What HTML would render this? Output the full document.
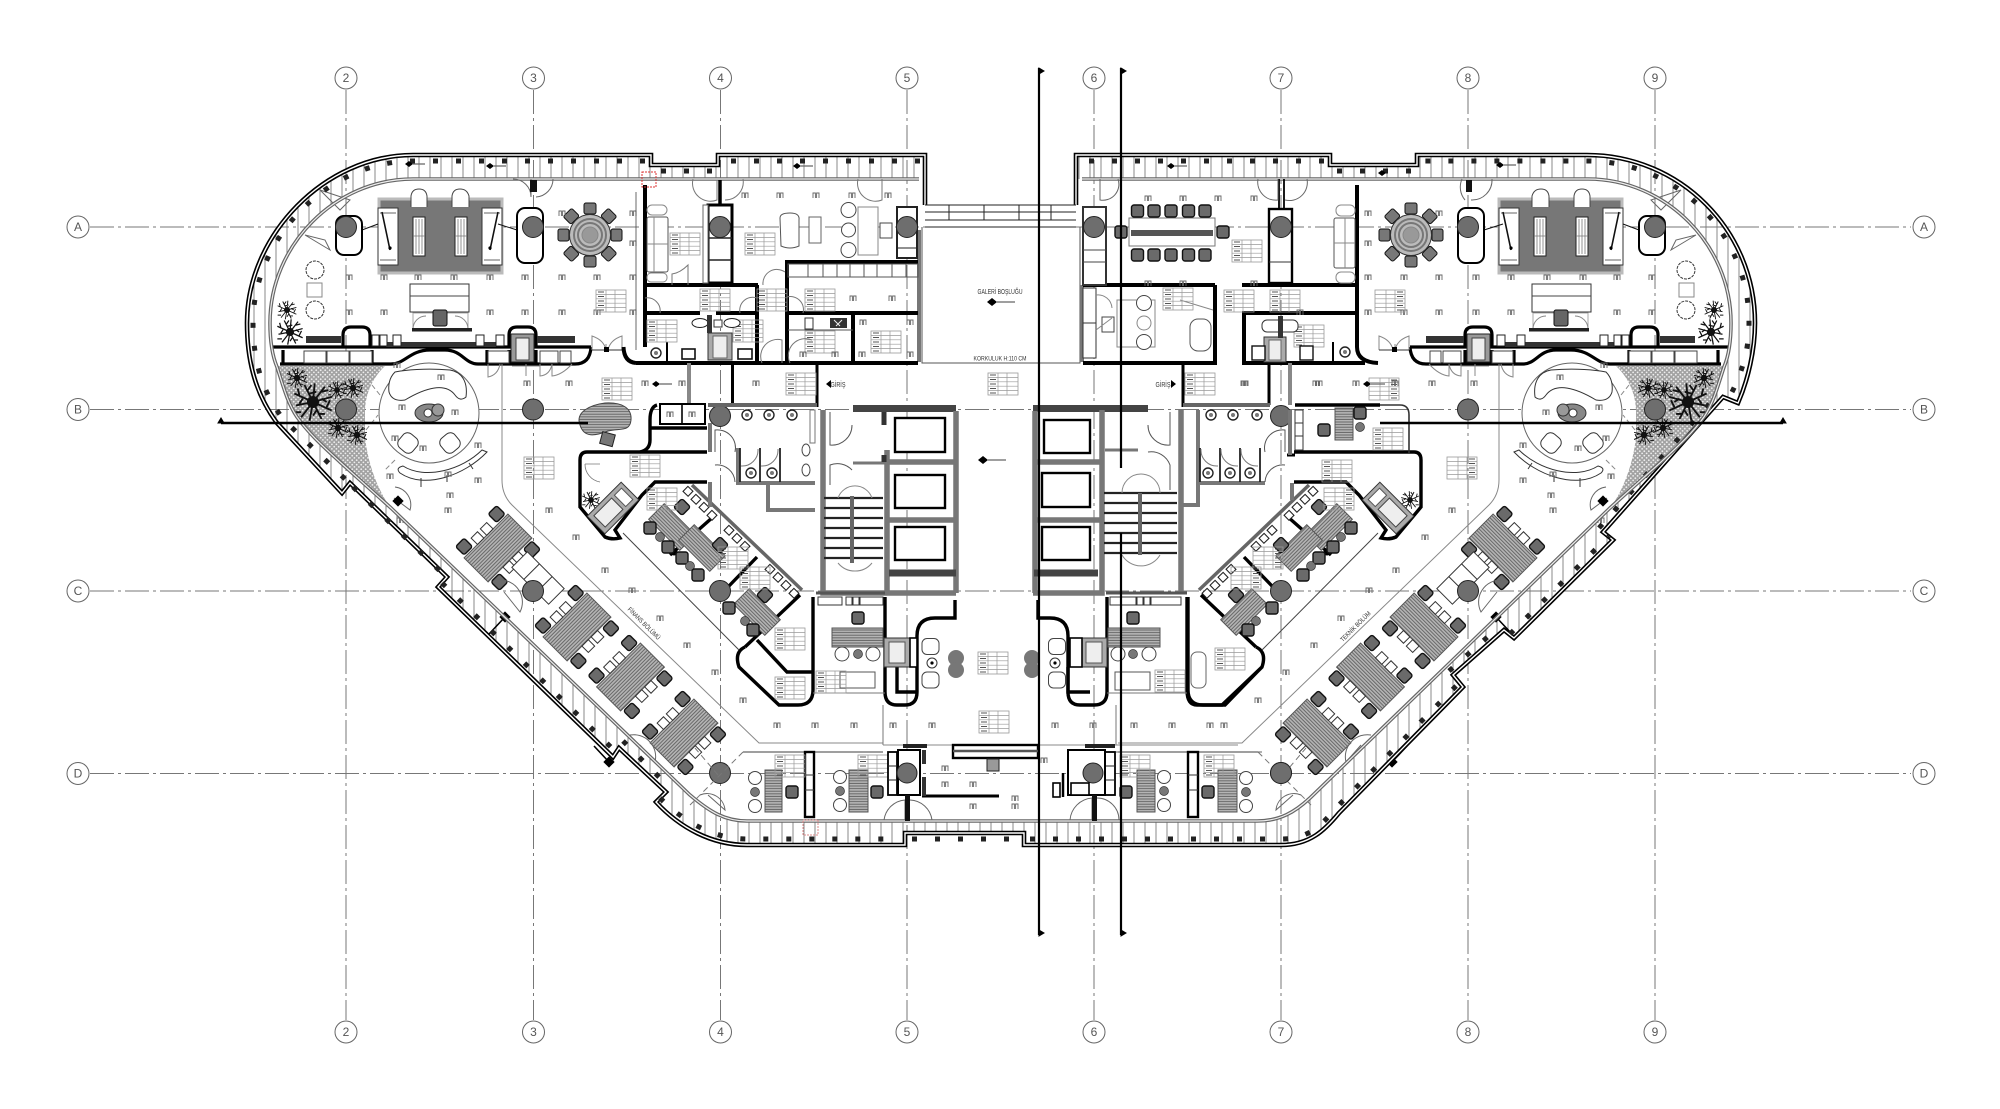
<!DOCTYPE html>
<html><head><meta charset="utf-8"><title>Floor plan</title>
<style>html,body{margin:0;padding:0;background:#fff}svg{display:block}text{font-family:"Liberation Sans",sans-serif}</style></head>
<body>
<svg xmlns="http://www.w3.org/2000/svg" width="2000" height="1109" viewBox="0 0 2000 1109">
<defs>
<pattern id="hatch" width="11" height="10" patternUnits="userSpaceOnUse"><rect width="11" height="10" fill="#fff"/><path d="M1,0V10" stroke="#888" stroke-width="1"/></pattern>
<pattern id="dots" width="4.5" height="4.5" patternUnits="userSpaceOnUse"><rect width="4.5" height="4.5" fill="#a2a2a2"/><circle cx="1.2" cy="1.2" r=".9" fill="#eee"/><circle cx="3.4" cy="3.4" r=".9" fill="#eee"/></pattern>
<pattern id="wood" width="40" height="2.6" patternUnits="userSpaceOnUse"><rect width="40" height="2.6" fill="#b5b5b5"/><path d="M0,.8H40" stroke="#666" stroke-width=".9"/></pattern>
<g id="tk"><path d="M-3,3V-2H-.6V3M.6,3V-2H3V3" stroke="#666" fill="none" stroke-width=".9"/></g>
<g id="nt"><rect width="30" height="22" fill="none" stroke="#999" stroke-width=".8"/><path d="M0,4.4H30M0,8.8H30M0,13.2H30M0,17.6H30M10,0V22M19,0V22" stroke="#999" stroke-width=".7"/><path d="M2,2H8M2,6.5H8M2,11H8M2,15.5H8M2,20H8" stroke="#555" stroke-width="1"/></g>
<g id="gc"><rect x="-6" y="-6" width="12" height="12" rx="2.5" fill="#6a6a6a" stroke="#111" stroke-width="1.4"/></g>
<g id="st"><circle r="6" fill="#fff" stroke="#444"/></g>
<g id="gs"><circle r="4.5" fill="#777" stroke="#333" stroke-width=".7"/></g>
<g id="col"><circle r="10.5" fill="#6e6e6e" stroke="#222" stroke-width="1"/></g>
<g id="palm" stroke="#111" stroke-width="1.1" fill="none"><path d="M0,0L-11,-5M0,0L-10,2M0,0L-7,9M0,0L-2,11M0,0L5,10M0,0L11,5M0,0L11,-3M0,0L7,-9M0,0L1,-11M0,0L-5,-10M-8,-4L-9,-8M-7,6L-11,6M3,7L7,7M8,3L10,-1M5,-6L9,-7M-3,-7L-1,-10M-6,-2L-8,1M2,5L0,8M5,-2L8,0M-2,-5L2,-6"/><circle r="3" fill="#111"/></g>
<g id="ws"><rect x="-31" y="-17" width="62" height="34" fill="url(#wood)" stroke="#555"/>
<use href="#gc" x="-23" y="-25"/><use href="#gc" x="23" y="-25"/><use href="#gc" x="-23" y="25"/><use href="#gc" x="23" y="25"/>
<rect x="-12" y="-26" width="9" height="9" fill="#fff" stroke="#333"/><rect x="1" y="-26" width="9" height="9" fill="#fff" stroke="#333"/><rect x="-10" y="17" width="9" height="9" fill="#fff" stroke="#333"/><rect x="3" y="17" width="9" height="9" fill="#fff" stroke="#333"/></g>
<g id="sd"><rect x="-22" y="-11" width="44" height="22" fill="url(#wood)" stroke="#555"/></g>
<g id="wc"><circle r="5" fill="#fff" stroke="#222" stroke-width="1.4"/><circle r="2" fill="#777"/></g>
<g id="fx"><rect x="-8.5" y="-8" width="17" height="16" rx="5" fill="#fff" stroke="#444"/></g>

<g id="wing">
<!-- dotted planter -->
<path d="M277,366H385C372,378 365,395 365,412V437C368,465 378,490 390,507L387,507L340,462C325,448 310,435 297,417C287,402 283,385 277,367Z" fill="url(#dots)"/>
<use href="#palm" transform="translate(297,378) scale(.9)"/><use href="#palm" transform="translate(337,390) scale(.8)"/><use href="#palm" transform="translate(353,388) scale(.9)"/><use href="#palm" transform="translate(313,402) scale(1.7)"/><use href="#palm" transform="translate(338,428) scale(.9)"/><use href="#palm" transform="translate(357,435) scale(.9)"/>
<use href="#palm" transform="translate(287,310) scale(.85)"/><use href="#palm" transform="translate(290,332) scale(1.15)"/>
<use href="#palm" transform="translate(591,500) scale(.8)"/>
<!-- rug & seating -->
<rect x="379" y="199" width="123" height="74" fill="#777" stroke="#bbb" stroke-width="3"/>
<rect x="378" y="208" width="20" height="57" fill="#fff" stroke="#333"/><rect x="482" y="208" width="20" height="57" fill="#fff" stroke="#333"/>
<path d="M380,213H396M380,260H396M484,213H500M484,260H500" stroke="#666"/>
<path d="M382,212L390,250M498,212L490,250" stroke="#111" stroke-width="1.6"/><circle cx="390" cy="248" r="1.6"/><circle cx="490" cy="248" r="1.6"/>
<rect x="413" y="217" width="12" height="39" fill="#fff" stroke="#222"/><rect x="455" y="217" width="12" height="39" fill="#fff" stroke="#222"/>
<path d="M416,219V254M419,219V254M422,219V254M458,219V254M461,219V254M464,219V254M413,236H425M455,236H467" stroke="#777" stroke-width=".8"/>
<path d="M411,207V196Q412,189 419,189Q426,189 427,196V207M452,207V196Q453,189 460,189Q467,189 469,196V207" fill="#fff" stroke="#444"/>
<path d="M362,230L378,224M498,224L517,230" stroke="#111"/>
<rect x="336" y="216" width="26" height="39" rx="8" fill="#fff" stroke="#000" stroke-width="2"/>
<rect x="517" y="208" width="26" height="55" rx="8" fill="#fff" stroke="#000" stroke-width="2"/>
<use href="#col" x="346" y="227"/><use href="#col" x="533" y="227"/>
<!-- round table -->
<g transform="translate(590,235)"><g id="rc"><rect x="-6" y="-32" width="12" height="11" rx="2" fill="#777" stroke="#111"/><rect x="-6" y="21" width="12" height="11" rx="2" fill="#777" stroke="#111"/><rect x="-32" y="-6" width="11" height="12" rx="2" fill="#777" stroke="#111"/><rect x="21" y="-6" width="11" height="12" rx="2" fill="#777" stroke="#111"/></g><use href="#rc" transform="rotate(45)"/>
<circle r="20.5" fill="#bbb" stroke="#333"/><circle r="16" fill="none" stroke="#777" stroke-width="2"/><circle r="12" fill="none" stroke="#777" stroke-width="2"/><circle r="8" fill="#999" stroke="#888"/></g>
<!-- reception -->
<rect x="410" y="284" width="59" height="28" fill="#fff" stroke="#333"/><path d="M410,296H469" stroke="#444"/>
<rect x="413" y="313" width="55" height="16" fill="#fff" stroke="#aaa"/><path d="M413,329A13,13 0 0 1 426,316M468,329A13,13 0 0 0 455,316" fill="none" stroke="#888"/>
<rect x="433" y="310" width="14" height="16" rx="2" fill="#666" stroke="#111"/>
<rect x="412" y="328" width="60" height="3.5" fill="#222"/>
<rect x="307" y="283" width="15" height="14" fill="#fff" stroke="#888"/>
<circle cx="315" cy="270" r="9" fill="#fff" stroke="#333" stroke-dasharray="3 1"/><circle cx="315" cy="310" r="9" fill="#fff" stroke="#333" stroke-dasharray="3 1"/>
<!-- band wall -->
<g fill="none" stroke="#000" stroke-width="3.2">
<path d="M272,347H591"/><path d="M280,364H391C405,364 410,350 430,350H445C462,350 465,364 478,364H487"/>
<path d="M486,364H575Q590,364 591,347"/>
<path d="M343,347V335Q343,327 351,327H362Q370,327 370,335V347M509,347V335Q509,327 517,327H528Q536,327 536,335V347"/>
<path d="M372,350V364M283,350V364M487,350V364M509,350V364M536,350V364"/>
</g>
<rect x="306" y="336" width="35" height="7" fill="#333"/><rect x="537" y="336" width="38" height="7" fill="#333"/><rect x="386" y="342" width="110" height="5" fill="#333"/>
<g fill="#fff" stroke="#222"><rect x="372" y="335" width="7" height="11"/><rect x="380" y="335" width="7" height="11"/><rect x="393" y="335" width="8" height="11"/><rect x="476" y="335" width="8" height="11"/><rect x="496" y="335" width="8" height="11"/></g>
<g fill="#fff" stroke="#444"><rect x="304" y="351" width="22" height="12"/><rect x="327" y="351" width="22" height="12"/><rect x="350" y="351" width="22" height="12"/><rect x="488" y="351" width="21" height="12"/><rect x="540" y="351" width="18" height="12"/><rect x="560" y="351" width="11" height="12"/></g>
<rect x="511" y="334" width="23" height="28" fill="#999" stroke="#222"/><rect x="516" y="338" width="13" height="22" fill="#eee" stroke="#444"/>
<path d="M592,350V336Q604,340 606,350V344M622,350V336Q610,340 608,350" fill="none" stroke="#888"/>
<path d="M592,350H622" stroke="#333"/><rect x="604" y="347" width="5" height="5" fill="#000"/>
<path d="M488,364V377Q498,375 500,364M512,366H540M526,364V376M540,364V376Q550,375 552,364V376Q562,375 572,364" fill="none" stroke="#888"/>
<!-- lounge -->
<circle cx="429" cy="413" r="50" fill="#fff" stroke="#666"/>
<path d="M395,372C405,370 425,368 450,370C462,372 468,382 466,397Q460,402 455,395C445,382 425,388 405,400Q392,402 389,392C388,384 390,377 395,372Z" fill="#fff" stroke="#333"/>
<ellipse cx="429" cy="413" rx="14" ry="9" fill="#888" stroke="#333"/><circle cx="428" cy="413" r="4" fill="#fff" stroke="#333"/><ellipse cx="438" cy="410" rx="6" ry="6" fill="#999" stroke="#333"/>
<rect x="399" y="434" width="18" height="18" rx="6" transform="rotate(40 408 443)" fill="#fff" stroke="#333"/><rect x="441" y="434" width="18" height="18" rx="6" transform="rotate(-40 450 443)" fill="#fff" stroke="#333"/>
<path d="M400,473C425,490 465,475 487,452L482,450C462,470 425,480 403,466Q395,468 400,473Z" fill="#fff" stroke="#333"/>
<path d="M421,478V487M447,475V482M469,463L473,469" stroke="#333"/>
<path d="M380,395L372,385M395,460L385,470M366,430L378,415" stroke="#888" stroke-dasharray="5 3"/>
<!-- floor boundary -->
<path d="M502,364V480Q502,495 512,505L759,743H883" fill="none" stroke="#888"/>
<!-- wing walls -->
<g fill="none" stroke="#000" stroke-width="3.4">
<path d="M707,452H587Q580,452 580,460V507L605,537Q612,540 620,538L615,530L642,495L655,482H707"/>
<path d="M745,647Q734,652 739,667L779,705H798Q813,705 813,690V597"/>
<path d="M713,517L670,555M757,557L728,587M800,595L745,647"/>
</g>
<circle cx="674" cy="552" r="3.5" fill="#000"/>
<path d="M692,485L802,590" stroke="#666" stroke-width="3.5"/>
<path d="M623,533L739,650" stroke="#444" stroke-width="1"/>
<g fill="#fff" stroke="#222" stroke-width="1.1"><rect x="684" y="488" width="7" height="7" transform="rotate(44 688 492)"/><rect x="692" y="496" width="7" height="7" transform="rotate(44 696 500)"/><rect x="700" y="504" width="7" height="7" transform="rotate(44 704 508)"/><rect x="708" y="512" width="7" height="7" transform="rotate(44 712 516)"/><rect x="725" y="527" width="7" height="7" transform="rotate(44 729 531)"/><rect x="733" y="535" width="7" height="7" transform="rotate(44 737 539)"/><rect x="741" y="543" width="7" height="7" transform="rotate(44 745 547)"/><rect x="766" y="566" width="7" height="7" transform="rotate(44 770 570)"/><rect x="774" y="574" width="7" height="7" transform="rotate(44 778 578)"/><rect x="782" y="582" width="7" height="7" transform="rotate(44 786 586)"/><rect x="790" y="590" width="7" height="7" transform="rotate(44 794 594)"/></g>
<g transform="translate(613,508) rotate(45)"><rect x="-12.5" y="-24" width="25" height="48" fill="#aaa" stroke="#333"/><rect x="-8" y="-6" width="16" height="25" fill="#eee" stroke="#444"/><rect x="-8" y="-20" width="16" height="10" fill="#fff" stroke="#555"/></g>
<use href="#sd" transform="translate(672,527) rotate(45)"/><use href="#sd" transform="translate(702,548) rotate(45)"/><use href="#sd" transform="translate(757,612) rotate(45)"/>
<use href="#gc" transform="translate(682,507) rotate(45)"/><use href="#gc" transform="translate(720,545) rotate(45)"/><use href="#gc" transform="translate(765,595) rotate(45)"/>
<use href="#gc" x="650" y="528"/><use href="#gs" x="660" y="537"/><use href="#gc" x="668" y="547"/><use href="#gc" x="682" y="558"/><use href="#gs" x="690" y="566"/><use href="#gc" x="698" y="575"/><use href="#gs" x="745" y="621"/><use href="#gc" x="753" y="630"/><use href="#gc" x="729" y="608"/>
<use href="#nt" x="647" y="488"/><use href="#nt" x="718" y="547"/><use href="#nt" x="740" y="567"/>
<!-- workstations -->
<use href="#ws" transform="translate(498,548) rotate(-45)"/><use href="#ws" transform="translate(577,627) rotate(-45)"/><use href="#ws" transform="translate(630.5,677) rotate(-45)"/><use href="#ws" transform="translate(684,733) rotate(-45)"/>
<g transform="translate(538,578) rotate(45)"><rect x="-26" y="-11" width="52" height="22" fill="#fff" stroke="#333"/><path d="M-9,-11V11M9,-11V11" stroke="#333"/></g>
<!-- columns -->
<use href="#col" x="346" y="409.5"/><use href="#col" x="533" y="409.5"/><use href="#col" x="720" y="416"/><use href="#col" x="533" y="591"/><use href="#col" x="720" y="591"/><use href="#col" x="720" y="773"/>
<!-- perimeter doors -->
<g fill="none" stroke="#666"><path d="M394,498L410,510A18,18 0 0 0 395,487"/><path d="M504,592L520,612A22,22 0 0 0 500,580"/><path d="M640,745L655,762A22,22 0 0 0 630,735"/><path d="M708,795L725,810A18,18 0 0 0 700,795"/><path d="M320,190L340,210L350,200Z"/><path d="M305,235L325,240L330,250Z"/></g>
<g fill="#000"><rect x="394" y="497" width="8" height="8" transform="rotate(45 398 501)"/><rect x="501" y="613" width="8" height="8" transform="rotate(45 505 617)"/><rect x="605" y="758" width="8" height="8" transform="rotate(45 609 762)"/></g>
<path d="M505,617L489,634M609,762L594,746" stroke="#000" stroke-width="1.6"/>
<!-- ticks -->
<use href="#tk" x="349" y="277"/><use href="#tk" x="384" y="277"/><use href="#tk" x="418" y="277"/><use href="#tk" x="454" y="277"/><use href="#tk" x="490" y="277"/><use href="#tk" x="525" y="277"/><use href="#tk" x="562" y="277"/><use href="#tk" x="597" y="277"/><use href="#tk" x="633" y="277"/>
<use href="#tk" x="349" y="312"/><use href="#tk" x="384" y="312"/><use href="#tk" x="490" y="312"/><use href="#tk" x="525" y="312"/><use href="#tk" x="562" y="312"/><use href="#tk" x="597" y="312"/><use href="#tk" x="633" y="312"/>
<use href="#tk" x="562" y="213"/><use href="#tk" x="633" y="213"/><use href="#tk" x="633" y="243"/>
<use href="#tk" x="527" y="383"/><use href="#tk" x="569" y="383"/><use href="#tk" x="645" y="383"/><use href="#tk" x="682" y="383"/><use href="#tk" x="756" y="383"/>
<use href="#tk" x="397" y="365"/><use href="#tk" x="441" y="377"/><use href="#tk" x="402" y="407"/><use href="#tk" x="455" y="412"/><use href="#tk" x="395" y="438"/><use href="#tk" x="423" y="448"/><use href="#tk" x="478" y="445"/><use href="#tk" x="390" y="476"/><use href="#tk" x="448" y="474"/><use href="#tk" x="478" y="480"/><use href="#tk" x="450" y="495"/>
<use href="#tk" x="448" y="510"/><use href="#tk" x="400" y="520"/>
<use href="#tk" x="549" y="510"/><use href="#tk" x="576" y="537"/><use href="#tk" x="605" y="570"/><use href="#tk" x="632" y="590"/><use href="#tk" x="660" y="618"/><use href="#tk" x="687" y="645"/><use href="#tk" x="715" y="672"/><use href="#tk" x="743" y="700"/><use href="#tk" x="777" y="725"/>
<use href="#nt" x="596" y="290"/><use href="#nt" x="602" y="378"/><use href="#nt" x="524" y="457"/>
<!-- lower offices -->
<path d="M743,752H883" stroke="#666" stroke-width="1.2" fill="none"/>
<path d="M743,752L690,805M718,775L695,748" stroke="#777" stroke-dasharray="6 4" fill="none"/>
</g>
</defs>

<rect width="2000" height="1109" fill="#fff"/>

<!-- building shell: terrace hatch + floor -->
<path d="M925,205V155H718V165H651V155H413C325,155 247,235 247,323C247,340 249,358 253,373C258,392 266,408 277,423L342,493L350,483L447,577L438,587L613,757L619,748L666,792L656,802C680,828 712,845 747,845H905V833H1024V845H1281C1310,845 1325,830 1339,813L1463,687L1453,675L1504,630L1514,638L1613,540L1603,532L1723,397L1738,403C1748,380 1755,350 1755,323C1755,230 1680,155 1587,155H1417V165H1330V155H1076V205Z" fill="url(#hatch)"/>
<path d="M925,179H413C335,179 270,245 270,323C270,340 272,355 277,367C283,385 287,402 297,417C310,435 325,448 340,462L391,508L690,795C710,812 725,821 747,821H1257C1280,821 1295,812 1310,798L1610,508L1661,462C1676,448 1691,435 1704,417C1714,402 1718,385 1724,367C1729,355 1731,340 1731,323C1731,245 1666,179 1588,179H1076V205H925Z" fill="#fff"/>
<rect x="925" y="205" width="151" height="160" fill="#fff"/>

<!-- grid -->
<g stroke="#777" stroke-width="1" stroke-dasharray="24 4 3 4" fill="none">
<path d="M346,90V1020M533.5,90V1020M720.5,90V1020M907,90V1020M1094,90V1020M1281,90V1020M1468,90V1020M1655,90V1020"/>
<path d="M90,227H1911M90,409.5H1911M90,591H1911M90,773.5H1911"/>
</g>
<g fill="#fff" stroke="#666" stroke-width="1">
<circle cx="346" cy="78" r="11"/><circle cx="533.5" cy="78" r="11"/><circle cx="720.5" cy="78" r="11"/><circle cx="907" cy="78" r="11"/><circle cx="1094" cy="78" r="11"/><circle cx="1281" cy="78" r="11"/><circle cx="1468" cy="78" r="11"/><circle cx="1655" cy="78" r="11"/>
<circle cx="346" cy="1032" r="11"/><circle cx="533.5" cy="1032" r="11"/><circle cx="720.5" cy="1032" r="11"/><circle cx="907" cy="1032" r="11"/><circle cx="1094" cy="1032" r="11"/><circle cx="1281" cy="1032" r="11"/><circle cx="1468" cy="1032" r="11"/><circle cx="1655" cy="1032" r="11"/>
<circle cx="78" cy="227" r="11"/><circle cx="78" cy="409.5" r="11"/><circle cx="78" cy="591" r="11"/><circle cx="78" cy="773.5" r="11"/>
<circle cx="1924" cy="227" r="11"/><circle cx="1924" cy="409.5" r="11"/><circle cx="1924" cy="591" r="11"/><circle cx="1924" cy="773.5" r="11"/>
</g>
<g font-size="12" fill="#555" text-anchor="middle">
<text x="346" y="82">2</text><text x="533.5" y="82">3</text><text x="720.5" y="82">4</text><text x="907" y="82">5</text><text x="1094" y="82">6</text><text x="1281" y="82">7</text><text x="1468" y="82">8</text><text x="1655" y="82">9</text>
<text x="346" y="1036">2</text><text x="533.5" y="1036">3</text><text x="720.5" y="1036">4</text><text x="907" y="1036">5</text><text x="1094" y="1036">6</text><text x="1281" y="1036">7</text><text x="1468" y="1036">8</text><text x="1655" y="1036">9</text>
<text x="78" y="231">A</text><text x="78" y="413.5">B</text><text x="78" y="595">C</text><text x="78" y="777.5">D</text>
<text x="1924" y="231">A</text><text x="1924" y="413.5">B</text><text x="1924" y="595">C</text><text x="1924" y="777.5">D</text>
</g>

<use href="#wing"/>
<use href="#wing" transform="translate(2001 0) scale(-1 1)"/>

<!-- organic table (left only) -->
<path d="M580,425C575,412 590,405 605,403C622,402 632,408 631,420C630,432 620,428 608,431C595,436 584,438 580,425Z" fill="url(#wood)" stroke="#444"/>
<rect x="601" y="433" width="13" height="12" transform="rotate(15 607 439)" fill="#777" stroke="#222"/>

<!-- outer walls -->
<path d="M925,205V155H718V165H651V155H413C325,155 247,235 247,323C247,340 249,358 253,373C258,392 266,408 277,423L342,493L350,483L447,577L438,587L613,757L619,748L666,792L656,802C680,828 712,845 747,845H905V833H1024V845H1281C1310,845 1325,830 1339,813L1463,687L1453,675L1504,630L1514,638L1613,540L1603,532L1723,397L1738,403C1748,380 1755,350 1755,323C1755,230 1680,155 1587,155H1417V165H1330V155H1076V205" fill="none" stroke="#000" stroke-width="4.6"/>
<path d="M925,205V155H718V165H651V155H413C325,155 247,235 247,323C247,340 249,358 253,373C258,392 266,408 277,423L342,493L350,483L447,577L438,587L613,757L619,748L666,792L656,802C680,828 712,845 747,845H905V833H1024V845H1281C1310,845 1325,830 1339,813L1463,687L1453,675L1504,630L1514,638L1613,540L1603,532L1723,397L1738,403C1748,380 1755,350 1755,323C1755,230 1680,155 1587,155H1417V165H1330V155H1076V205" fill="none" stroke="#fff" stroke-width="1.4"/>
<!-- posts -->
<path d="M920,161H722M712,171H657M645,161H413C328,161 253,238 253,323C253,340 255,356 259,371C264,389 272,404 283,419L345,479M353,487L442,573M442,583L617,753M623,741L670,788M660,798C684,822 714,839 747,839H899M912,839H1018M1030,839H1281C1308,839 1321,826 1335,809L1459,683M1449,671L1500,626M1510,634L1609,536M1599,528L1718,394M1732,392C1742,372 1749,350 1749,323C1749,233 1677,161 1587,161H1423M1411,171H1336M1324,161H1082" fill="none" stroke="#222" stroke-width="5" stroke-dasharray="5 18"/>
<!-- inner glazing -->
<path d="M919,179H413C335,179 270,245 270,323C270,340 272,355 277,367C283,385 287,402 297,417C310,435 325,448 340,462L391,508L690,795C710,812 725,821 747,821H1257C1280,821 1295,812 1310,798L1610,508L1661,462C1676,448 1691,435 1704,417C1714,402 1718,385 1724,367C1729,355 1731,340 1731,323C1731,245 1666,179 1588,179H1082" fill="none" stroke="#666" stroke-width="3.6"/>
<path d="M919,179H413C335,179 270,245 270,323C270,340 272,355 277,367C283,385 287,402 297,417C310,435 325,448 340,462L391,508L690,795C710,812 725,821 747,821H1257C1280,821 1295,812 1310,798L1610,508L1661,462C1676,448 1691,435 1704,417C1714,402 1718,385 1724,367C1729,355 1731,340 1731,323C1731,245 1666,179 1588,179H1082" fill="none" stroke="#eee" stroke-width="1.2"/>

<!-- bridge and void -->
<path d="M925,205H1076M925,212H1076M925,220H1076M925,227H1076M949,205V220M984,205V220M1019,205V220M1051,205V220" stroke="#222" fill="none"/>
<path d="M922,227V363H1080V227" fill="none" stroke="#555"/>
<path d="M919,230V362" stroke="#777" stroke-width="4"/><path d="M1082,285V362" stroke="#777" stroke-width="4"/>

<!-- left upper rooms -->
<g fill="none" stroke="#000" stroke-width="4">
<path d="M645,185V347M636,363H918"/>
<path d="M636,363Q624,362 623.5,347"/>
<path d="M645,285H758M757,285V362"/><path d="M645,313H700M716,313H757M785,313H918"/>
<path d="M785,262H918M787,262V363M853,313V362"/><path d="M667,342V362" stroke-width="2"/>
</g>
<rect x="708" y="205" width="24" height="78" fill="#fff" stroke="#000" stroke-width="3"/><path d="M709,238H732M709,260H732" stroke="#222" stroke-width="1.4"/>
<rect x="703" y="205" width="5" height="78" fill="#fff" stroke="#666"/>
<use href="#col" x="720" y="227"/>
<path d="M720,180V205" stroke="#000" stroke-width="3.5" fill="none"/>
<rect x="647" y="217" width="21" height="55" rx="2" fill="#fff" stroke="#555"/><rect x="647" y="205" width="20" height="10" rx="5" fill="#fff" stroke="#888"/><rect x="647" y="273" width="20" height="9" rx="4" fill="#fff" stroke="#888"/>
<path d="M654,217V272M647,244H668" stroke="#888"/>
<use href="#nt" x="670" y="233"/><use href="#nt" x="745" y="233"/><use href="#nt" x="700" y="289"/><use href="#nt" x="757" y="289"/><use href="#nt" x="805" y="289"/><use href="#nt" x="871" y="331"/><use href="#nt" x="805" y="331"/><use href="#nt" x="647" y="320"/><use href="#nt" x="733" y="320"/>
<path d="M636,350V192" stroke="#444" stroke-width=".8"/>
<path d="M672,285V274Q680,273 688,265V285M645,298A13,13 0 0 1 660,313M757,298A13,13 0 0 0 740,313M763,285A14,14 0 0 1 785,272M787,297A13,13 0 0 1 803,313M762,363A17,17 0 0 1 782,340V363M790,363A17,17 0 0 1 812,340M693,179A18,18 0 0 0 717,200V180M725,200A18,18 0 0 0 743,179M858,179A18,18 0 0 0 882,200V179" fill="none" stroke="#777"/>
<path d="M513,179A18,18 0 0 1 531,197V179M536,197A18,18 0 0 0 553,179" fill="none" stroke="#666"/>
<rect x="530" y="180" width="7" height="12" fill="#111"/>
<path d="M780,218Q780,213 790,213Q800,213 799,220V246Q790,250 781,246Z" fill="#fff" stroke="#555"/>
<rect x="809" y="217" width="12" height="26" fill="#fff" stroke="#666"/>
<rect x="858" y="207" width="20" height="48" fill="#fff" stroke="#888"/>
<circle cx="848.5" cy="210" r="7.5" fill="#fff" stroke="#444"/><circle cx="848.5" cy="230" r="7" fill="#fff" stroke="#444"/><circle cx="848.5" cy="250" r="7.5" fill="#fff" stroke="#444"/>
<rect x="880" y="223" width="12" height="15" fill="#fff" stroke="#444"/>
<rect x="897" y="207" width="20" height="51" fill="#fff" stroke="#222" stroke-width="2"/><path d="M897,248H917" stroke="#222"/><use href="#col" x="907" y="227"/>
<rect x="788" y="264" width="130" height="13" fill="none" stroke="#555"/><path d="M808,264V277M823,264V277M837,264V277M850,264V277M864,264V277M877,264V277M892,264V277M906,264V277" stroke="#555"/>
<path d="M788,330H853" stroke="#555"/><rect x="805" y="318" width="8" height="11" fill="#fff" stroke="#333"/><rect x="830" y="318" width="17" height="10" fill="#333"/><path d="M834,320l6,6M842,320l-6,6" stroke="#eee"/>
<rect x="708" y="333" width="24" height="27" fill="#aaa" stroke="#333"/><rect x="713" y="336" width="14" height="22" fill="#eee" stroke="#666"/>
<rect x="682" y="349" width="13" height="10" fill="#fff" stroke="#111" stroke-width="1.6"/><rect x="738" y="349" width="14" height="10" fill="#fff" stroke="#111" stroke-width="1.6"/>
<use href="#wc" x="656" y="353"/>
<ellipse cx="700" cy="323" rx="8" ry="4.5" fill="#fff" stroke="#222"/><ellipse cx="732" cy="323" rx="8" ry="4.5" fill="#fff" stroke="#222"/><rect x="707" y="315" width="5" height="18" fill="#333"/><rect x="714" y="320" width="8" height="7" fill="#fff" stroke="#333"/>
<use href="#tk" x="853" y="298"/><use href="#tk" x="892" y="298"/><use href="#tk" x="863" y="322"/><use href="#tk" x="910" y="322"/><use href="#tk" x="803" y="354"/><use href="#tk" x="835" y="354"/><use href="#tk" x="862" y="354"/><use href="#tk" x="910" y="354"/>
<use href="#tk" x="745" y="195"/><use href="#tk" x="780" y="195"/><use href="#tk" x="816" y="195"/><use href="#tk" x="852" y="195"/><use href="#tk" x="888" y="195"/>

<!-- right upper rooms -->
<g fill="none" stroke="#000" stroke-width="4">
<path d="M1357,185V347M1365,363H1242M1217,363H1083"/>
<path d="M1215,285V363M1083,285H1215M1242,285H1357M1242,313H1357M1244,313V362"/><path d="M1333,342V362" stroke-width="2"/>
<path d="M1378,363Q1357,362 1357,347"/>
</g>
<rect x="1269" y="209" width="23" height="74" fill="#fff" stroke="#000" stroke-width="2.4"/><path d="M1269,262H1292" stroke="#333"/>
<path d="M1279,179V209M1284,179V209" stroke="#000" stroke-width="1.8"/>
<use href="#col" x="1281" y="227"/>
<rect x="1083" y="207" width="23" height="78" fill="#fff" stroke="#333" stroke-width="2"/><path d="M1083,250H1106M1083,262H1106" stroke="#444"/><use href="#col" x="1094" y="227"/>
<rect x="1129" y="218" width="86" height="28" fill="#fff" stroke="#777"/><rect x="1131" y="230" width="82" height="6" fill="#555"/>
<use href="#gc" x="1137.5" y="211"/><use href="#gc" x="1154" y="211"/><use href="#gc" x="1171" y="211"/><use href="#gc" x="1188.5" y="211"/><use href="#gc" x="1205" y="211"/><use href="#gc" x="1137.5" y="255"/><use href="#gc" x="1154" y="255"/><use href="#gc" x="1171" y="255"/><use href="#gc" x="1188.5" y="255"/><use href="#gc" x="1205" y="255"/><use href="#gc" x="1121" y="232"/><use href="#gc" x="1223" y="232"/>
<rect x="1083" y="288" width="13" height="70" fill="#fff" stroke="#333"/><path d="M1083,323H1096" stroke="#333"/>
<rect x="1117" y="300" width="38" height="47" fill="none" stroke="#888"/><circle cx="1144" cy="303" r="7.5" fill="#fff" stroke="#444"/><circle cx="1144" cy="323" r="7" fill="#fff" stroke="#888"/><circle cx="1144" cy="342" r="7.5" fill="#fff" stroke="#444"/>
<rect x="1102" y="317" width="12" height="15" fill="#fff" stroke="#444"/><rect x="1190" y="319" width="21" height="32" rx="8" fill="#fff" stroke="#555"/>
<path d="M1096,295A14,14 0 0 1 1112,308M1096,330L1112,318M1180,300L1213,310" fill="none" stroke="#888"/>
<use href="#nt" x="1163" y="288"/><use href="#nt" x="1224" y="290"/><use href="#nt" x="1270" y="290"/><use href="#nt" x="1232" y="240"/><use href="#nt" x="1294" y="325"/>
<rect x="1334" y="218" width="21" height="50" rx="2" fill="#fff" stroke="#555"/><rect x="1336" y="205" width="19" height="11" rx="5" fill="#fff" stroke="#888"/><rect x="1336" y="272" width="19" height="11" rx="5" fill="#fff" stroke="#888"/>
<path d="M1345,218V268M1334,243H1355" stroke="#888"/>
<path d="M1258,179A18,18 0 0 0 1278,200V179M1285,200A18,18 0 0 0 1307,179M1118,179A16,16 0 0 1 1100,200V179" fill="none" stroke="#666"/>
<path d="M1462,179A20,20 0 0 0 1465,200M1471,200A20,20 0 0 0 1492,179" fill="none" stroke="#666"/>
<rect x="1466" y="180" width="6" height="12" fill="#111"/>
<rect x="1264" y="337" width="22" height="25" fill="#aaa" stroke="#333"/><rect x="1269" y="340" width="12" height="20" fill="#eee" stroke="#666"/>
<rect x="1252" y="346" width="13" height="14" fill="#fff" stroke="#111" stroke-width="1.4"/><rect x="1300" y="346" width="13" height="14" fill="#fff" stroke="#111" stroke-width="1.4"/>
<use href="#wc" x="1345" y="352"/>
<rect x="1262" y="320" width="36" height="12" rx="5" fill="#fff" stroke="#333"/><rect x="1278" y="316" width="5" height="22" fill="#333"/>
<use href="#tk" x="1148" y="198"/><use href="#tk" x="1183" y="198"/><use href="#tk" x="1218" y="198"/><use href="#tk" x="1254" y="198"/><use href="#tk" x="1148" y="283"/><use href="#tk" x="1183" y="283"/><use href="#tk" x="1254" y="283"/><use href="#tk" x="1300" y="312"/>

<!-- core top walls -->
<path d="M817,363V407M1183,363V407M732.5,363V404M1269,363V405" fill="none" stroke="#000" stroke-width="3"/>
<rect x="853" y="405" width="103" height="7" fill="#444"/><rect x="1033" y="405" width="115" height="7" fill="#444"/>
<path d="M689,363V405M1290,363V405" stroke="#888" stroke-width="4"/>
<path d="M708,405H817M1183,405H1270" stroke="#666" stroke-width="4"/>
<use href="#nt" x="786" y="373"/><use href="#nt" x="988" y="373"/><use href="#nt" x="1185" y="373"/>
<use href="#tk" x="1244" y="383"/><use href="#tk" x="1316" y="383"/><use href="#tk" x="1395" y="383"/>

<!-- left only: toilet block walls -->
<g fill="none" stroke="#000" stroke-width="3.4">
<path d="M657,405Q650,407 650,420V440Q650,450 640,452"/><path d="M650,428H707"/>
</g>
<rect x="660" y="404" width="45" height="20" fill="#fff" stroke="#000" stroke-width="2"/><path d="M682,404V424" stroke="#000" stroke-width="1.6"/>
<use href="#tk" x="670" y="414"/><use href="#tk" x="692" y="414"/>
<path d="M710,423V452M710,482V507M738,448V483H815M768,483V510H815" fill="none" stroke="#777" stroke-width="4"/>
<rect x="810" y="410" width="5" height="33" fill="none" stroke="#777"/>
<path d="M735,452A18,18 0 0 0 715,430V452M735,482A18,18 0 0 0 715,465" fill="none" stroke="#555"/>
<use href="#nt" x="630" y="455"/>
<path d="M585,464H600M585,464A18,18 0 0 0 600,482" fill="none" stroke="#777" stroke-width=".8"/>
<!-- right only -->
<path d="M1295,405H1380" stroke="#000" stroke-width="3.4"/>
<path d="M1380,405H1400Q1409,405 1409,415V453" fill="none" stroke="#333" stroke-width="1.6"/>
<path d="M1287,455H1295" stroke="#000" stroke-width="3"/>
<path d="M1290,410V455M1292,483V500M1200,483H1265M1198,410V505H1183" fill="none" stroke="#777" stroke-width="4"/>
<path d="M1265,452A18,18 0 0 1 1285,430V452M1265,482A18,18 0 0 1 1285,465" fill="none" stroke="#555"/>
<rect x="1295" y="410" width="8" height="40" fill="#fff" stroke="#333"/><path d="M1295,423H1303M1295,436H1303" stroke="#333"/>
<use href="#nt" x="1322" y="460"/><use href="#nt" x="1373" y="428"/>
<rect x="1335" y="408" width="18" height="32" fill="url(#wood)" stroke="#555"/><use href="#gc" x="1324" y="430"/><use href="#gc" x="1360" y="413"/><use href="#gs" x="1360" y="427"/>
<!-- WC fixtures -->
<use href="#wc" x="747" y="415"/><use href="#wc" x="769" y="415"/><use href="#wc" x="792" y="415"/>
<use href="#wc" x="1211" y="415"/><use href="#wc" x="1233" y="415"/><use href="#wc" x="1257" y="415"/>
<use href="#wc" x="751" y="473"/><use href="#wc" x="772" y="473"/><use href="#wc" x="1208" y="473"/><use href="#wc" x="1230" y="473"/><use href="#wc" x="1250" y="473"/>
<path d="M740,448V482M760,448V482M780,448V482M1200,448V482M1220,448V482M1240,448V482M1260,448V482" stroke="#222" stroke-width="1.8"/>
<path d="M741,466A16,16 0 0 0 758,449M761,466A16,16 0 0 0 778,449M1201,449A16,16 0 0 0 1218,466M1221,449A16,16 0 0 0 1238,466M1241,449A16,16 0 0 0 1258,466" fill="none" stroke="#777"/>
<ellipse cx="806" cy="450" rx="4" ry="6" fill="#fff" stroke="#444"/><ellipse cx="806" cy="470" rx="4" ry="6" fill="#fff" stroke="#444"/>
<!-- stair / elevator cores -->
<g fill="none" stroke="#777" stroke-width="5.5">
<path d="M823,410V593H956M887,450V593"/>
<path d="M956,411V593M1035,411V593"/>
<path d="M1102,410V593H1033M1181,410V593"/>
<path d="M887,462H956M887,520H956M1036,462H1100M1036,520H1100"/>
</g>
<path d="M889,573H956M1034,573H1098" stroke="#444" stroke-width="7"/>
<path d="M853,463H885M1105,450H1138" stroke="#777" stroke-width="3"/>
<path d="M884,412V425M884,455V462" stroke="#333" stroke-width="5"/>
<g fill="#fff" stroke="#000" stroke-width="2.4">
<rect x="895" y="418" width="50" height="34"/><rect x="895" y="475" width="50" height="33"/><rect x="895" y="527" width="50" height="33"/>
<rect x="1044" y="420" width="46" height="33"/><rect x="1042" y="473" width="48" height="34"/><rect x="1042" y="527" width="48" height="33"/>
</g>
<path d="M824,498H883M824,508H883M824,518H883M824,528H883M824,538H883M824,548H883M824,558H883M1104,493H1177M1104,503H1177M1104,513H1177M1104,523H1177M1104,533H1177M1104,543H1177M1104,553H1177" stroke="#222" stroke-width="2.2"/>
<path d="M852,496V563M1140,493V555" stroke="#666" stroke-width="4"/>
<path d="M838,498A18,18 0 0 1 872,498M838,563A22,22 0 0 0 872,563M1122,493A18,18 0 0 1 1160,493M1122,555A22,22 0 0 0 1160,555" fill="none" stroke="#888"/>
<path d="M830,412V445A20,20 0 0 0 852,425M830,485V465A20,20 0 0 1 852,470M1170,412V445A20,20 0 0 1 1148,425M1170,490V465A20,20 0 0 0 1148,452" fill="none" stroke="#555"/>

<!-- offices below core -->
<g fill="none" stroke="#000" stroke-width="3.4">
<path d="M955,600V618H935Q917,618 917,636V692Q917,705 905,705H897Q885,705 885,692V597"/>
<path d="M897,667V692H917M1068,667V692H1090"/>
<path d="M1038,600V618H1050Q1068,618 1068,636V692Q1068,705 1080,705H1094Q1107,705 1107,692V597"/>
<path d="M1187,597V690Q1187,705 1197,705H1225L1262,667"/>
</g>
<path d="M757,640L787,672H813" stroke="#000" stroke-width="3.4" fill="none"/>
<path d="M816,593H885M1106,593H1187" stroke="#555" stroke-width="3"/>
<g fill="#fff" stroke="#333"><rect x="818" y="597" width="24" height="8"/><rect x="846" y="597" width="6" height="8"/><rect x="853" y="597" width="6" height="8"/><rect x="860" y="597" width="23" height="8"/><rect x="1110" y="597" width="26" height="8"/><rect x="1137" y="597" width="6" height="8"/><rect x="1144" y="597" width="6" height="8"/><rect x="1151" y="597" width="30" height="8"/></g>
<rect x="832" y="628" width="51" height="19" fill="url(#wood)" stroke="#555"/><use href="#gc" x="858" y="618"/><circle cx="842" cy="654" r="7" fill="#fff" stroke="#444"/><use href="#gs" x="858" y="654"/><circle cx="873" cy="654" r="7" fill="#fff" stroke="#444"/>
<rect x="840" y="672" width="35" height="16" fill="#fff" stroke="#555"/><path d="M813,693H885M1107,693H1187M883,705V745M1116,705V745" stroke="#777"/>
<use href="#nt" x="775" y="628"/><use href="#nt" x="775" y="677"/><use href="#nt" x="816" y="671"/><use href="#nt" x="1215" y="648"/><use href="#nt" x="1155" y="670"/>
<rect x="1191" y="652" width="15" height="36" rx="6" fill="#fff" stroke="#666"/>
<rect x="1108" y="628" width="52" height="19" fill="url(#wood)" stroke="#555"/><use href="#gc" x="1133" y="618"/><circle cx="1118" cy="654" r="7" fill="#fff" stroke="#444"/><use href="#gs" x="1133" y="654"/><circle cx="1149" cy="654" r="7" fill="#fff" stroke="#444"/>
<rect x="1115" y="672" width="35" height="18" fill="#fff" stroke="#555"/>
<rect x="884" y="638" width="26" height="29" fill="#aaa" stroke="#333"/><rect x="889" y="642" width="16" height="21" fill="#eee" stroke="#555"/><rect x="910" y="638" width="7" height="29" fill="#fff" stroke="#000" stroke-width="1.6"/>
<rect x="1082" y="638" width="25" height="29" fill="#aaa" stroke="#333"/><rect x="1086" y="642" width="16" height="21" fill="#eee" stroke="#555"/><rect x="1070" y="638" width="12" height="29" fill="#fff" stroke="#000" stroke-width="1.6"/>
<use href="#fx" x="930.5" y="646.5"/><circle cx="932" cy="663" r="5" fill="#fff" stroke="#333"/><circle cx="932" cy="663" r="1.6"/><use href="#fx" x="930.5" y="680"/>
<use href="#fx" x="1057" y="646.5"/><circle cx="1055" cy="663" r="5" fill="#fff" stroke="#333"/><circle cx="1055" cy="663" r="1.6"/><use href="#fx" x="1057" y="680"/>
<ellipse cx="956" cy="658" rx="8" ry="8" fill="#777"/><ellipse cx="956" cy="670" rx="8" ry="8" fill="#777"/><ellipse cx="1032" cy="658" rx="8" ry="8" fill="#777"/><ellipse cx="1032" cy="670" rx="8" ry="8" fill="#777"/>
<use href="#nt" x="978" y="652"/><use href="#nt" x="979" y="711"/>
<use href="#tk" x="815" y="725"/><use href="#tk" x="854" y="725"/><use href="#tk" x="893" y="725"/><use href="#tk" x="932" y="725"/><use href="#tk" x="1055" y="725"/><use href="#tk" x="1093" y="725"/><use href="#tk" x="1134" y="725"/><use href="#tk" x="1172" y="725"/><use href="#tk" x="1210" y="725"/>
<path d="M883,745H1238" stroke="#888"/>
<rect x="953" y="745" width="85" height="13" fill="#fff" stroke="#000" stroke-width="2.4"/><path d="M953,751H1038" stroke="#555" stroke-width="2.5"/>
<rect x="987" y="759" width="12" height="12" fill="#999" stroke="#222"/>
<path d="M922,796H999" stroke="#000" stroke-width="3"/>
<path d="M1116,752H1262" stroke="#666"/>

<!-- lower offices -->
<rect x="805" y="752" width="9" height="65" fill="#fff" stroke="#000" stroke-width="2.4"/><path d="M805,775H814M805,790H814" stroke="#333"/>
<rect x="1188" y="752" width="10" height="65" fill="#fff" stroke="#000" stroke-width="2.4"/><path d="M1188,775H1198M1188,790H1198" stroke="#333"/>
<rect x="765" y="770" width="17" height="42" fill="url(#wood)" stroke="#555"/><use href="#gc" x="792" y="792"/><circle cx="755" cy="778" r="6.5" fill="#fff" stroke="#444"/><use href="#gs" x="755" y="792"/><circle cx="755" cy="806" r="6.5" fill="#fff" stroke="#444"/>
<rect x="849" y="770" width="19" height="42" fill="url(#wood)" stroke="#555"/><use href="#gc" x="877" y="792"/><circle cx="840" cy="777" r="6.5" fill="#fff" stroke="#444"/><use href="#gs" x="840" y="791"/><circle cx="840" cy="805" r="6.5" fill="#fff" stroke="#444"/>
<rect x="1137" y="770" width="18" height="42" fill="url(#wood)" stroke="#555"/><use href="#gc" x="1126" y="792"/><circle cx="1164" cy="777" r="6.5" fill="#fff" stroke="#444"/><use href="#gs" x="1164" y="791"/><circle cx="1164" cy="805" r="6.5" fill="#fff" stroke="#444"/>
<rect x="1218" y="770" width="19" height="42" fill="url(#wood)" stroke="#555"/><use href="#gc" x="1208" y="792"/><circle cx="1246" cy="778" r="6.5" fill="#fff" stroke="#444"/><use href="#gs" x="1246" y="792"/><circle cx="1246" cy="806" r="6.5" fill="#fff" stroke="#444"/>
<use href="#nt" x="775" y="755"/><use href="#nt" x="858" y="755"/><use href="#nt" x="1120" y="755"/><use href="#nt" x="1204" y="755"/>
<g fill="#fff" stroke="#000" stroke-width="1.8"><rect x="888" y="752" width="9" height="43"/><rect x="1105" y="752" width="10" height="43"/></g>
<path d="M888,766H897M888,780H897M1105,766H1115M1105,780H1115" stroke="#222"/>
<rect x="898" y="750" width="22" height="45" fill="#fff" stroke="#000" stroke-width="2"/><circle cx="907" cy="773" r="10" fill="#6e6e6e" stroke="#222"/>
<rect x="1068" y="750" width="37" height="45" fill="#fff" stroke="#000" stroke-width="2"/><circle cx="1093" cy="773" r="10" fill="#6e6e6e" stroke="#222"/><rect x="1071" y="783" width="18" height="12" fill="#fff" stroke="#000" stroke-width="1.6"/>
<use href="#col" x="1281" y="773"/>
<rect x="1053" y="783" width="7" height="14" fill="#fff" stroke="#000" stroke-width="1.6"/><path d="M1063,773V797" stroke="#000" stroke-width="2.5"/>
<rect x="1085" y="744" width="30" height="4" fill="#222"/><rect x="903" y="744" width="24" height="4" fill="#222"/>
<rect x="922" y="750" width="4" height="14" fill="#333"/><rect x="922" y="777" width="4" height="19" fill="#333"/>
<path d="M884,820A23,23 0 0 1 905,800V820M910,800A23,23 0 0 1 932,820M1070,820A24,24 0 0 1 1092,798V820M1097,798A22,22 0 0 1 1119,820" fill="none" stroke="#666"/>
<rect x="1092" y="795" width="5" height="26" fill="#111"/><rect x="905" y="795" width="5" height="26" fill="#111"/>
<rect x="803" y="820" width="15" height="15" fill="none" stroke="#d88" stroke-dasharray="2 1"/><rect x="642" y="172" width="14" height="15" fill="none" stroke="#d33" stroke-dasharray="2 1"/>
<use href="#tk" x="945" y="768"/><use href="#tk" x="945" y="784"/><use href="#tk" x="973" y="784"/><use href="#tk" x="1015" y="798"/><use href="#tk" x="973" y="806"/><use href="#tk" x="1015" y="806"/><use href="#tk" x="1044" y="760"/>

<!-- section lines -->
<path d="M221,423H588M1380,423H1783" stroke="#000" stroke-width="2.4"/>
<path d="M221,423l-3,0 3,-5 3,5zM1783,423l-3,0 3,-5 3,5z" fill="#000" stroke="#000"/>
<path d="M1039,68V935" stroke="#000" stroke-width="2.2"/>
<path d="M1121,68V468M1121,533V935" stroke="#000" stroke-width="2.2"/>
<path d="M1039,68l5,3 -5,3zM1121,68l5,3 -5,3zM1039,930l5,3 -5,3zM1121,930l5,3 -5,3z" fill="#000" stroke="#000"/>

<!-- level marks -->
<path d="M987,302l5,-4 5,4 -5,4zM978,460l5,-4 5,4 -5,4zM405,164l4,-3 4,3 -4,3zM486,166l4,-3 4,3 -4,3zM793,166l4,-3 4,3 -4,3zM1167,166l4,-3 4,3 -4,3zM1496,165l4,-3 4,3 -4,3zM1378,173l4,-3 4,3 -4,3zM652,384l4,-3 4,3 -4,3zM1363,384l4,-3 4,3 -4,3z" fill="#000"/>
<path d="M997,302H1015M988,460H1006M413,164H425M494,166H506M801,166H813M1175,166H1187M1504,165H1516M660,384H672M1371,384H1385" stroke="#666" stroke-width="1.2"/>

<!-- labels -->
<g fill="#333" text-anchor="middle">
<text x="1000" y="294" font-size="7" textLength="45" lengthAdjust="spacingAndGlyphs">GALERİ BOŞLUĞU</text>
<text x="1000" y="360.5" font-size="6.5" textLength="53" lengthAdjust="spacingAndGlyphs">KORKULUK H:110 CM</text>
<text x="838" y="387" font-size="7" textLength="15" lengthAdjust="spacingAndGlyphs">GİRİŞ</text>
<text x="1163" y="387" font-size="7" textLength="15" lengthAdjust="spacingAndGlyphs">GİRİŞ</text>
<text transform="translate(642.5,625) rotate(45)" font-size="6.5" textLength="43" lengthAdjust="spacingAndGlyphs">FİNANS BÖLÜMÜ</text>
<text transform="translate(1357,628) rotate(-45)" font-size="6.5" textLength="40" lengthAdjust="spacingAndGlyphs">TEKNİK BÖLÜM</text>
</g>
<path d="M826,384l5,-4v8zM1176,384l-5,-4v8z" fill="#000"/>
</svg>
</body></html>
